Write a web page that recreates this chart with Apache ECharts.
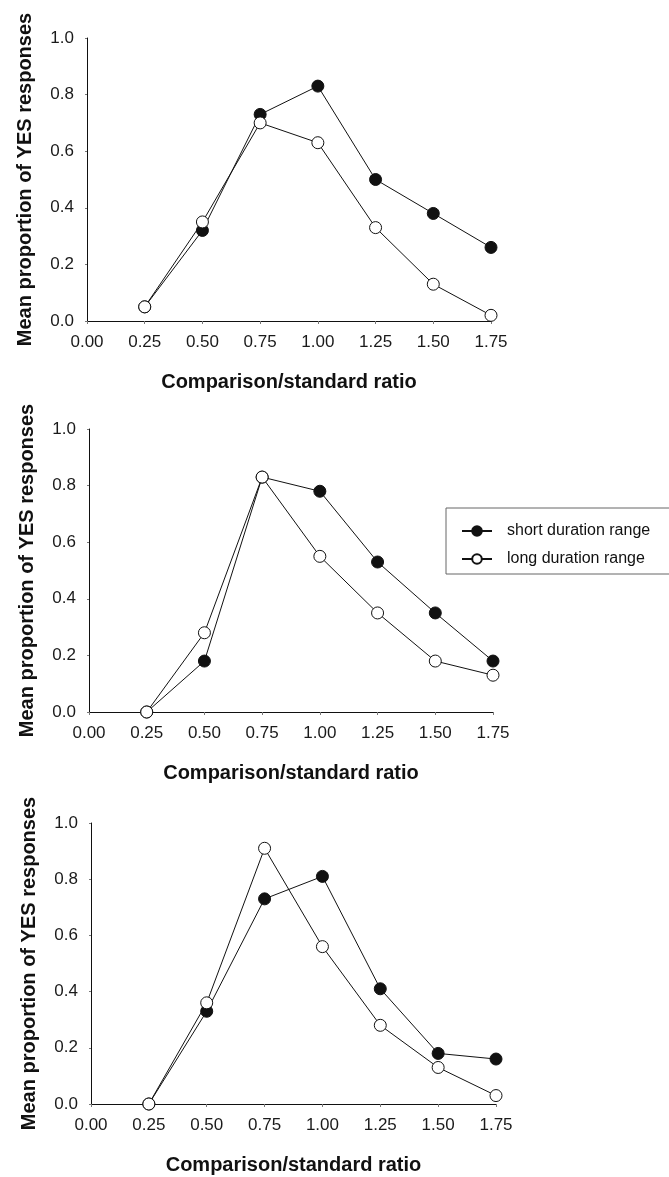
<!DOCTYPE html>
<html>
<head>
<meta charset="utf-8">
<script src="https://cdn.jsdelivr.net/npm/echarts@6/dist/echarts.min.js"></script>
<style>
html, body { margin: 0; padding: 0; background: #fff; }
#chart { width: 669px; height: 1177px; }
</style>
</head>
<body>
<div id="chart"></div>
<script>
// comparison/standard ratios (x positions of the points)
var ratios = [0.25, 0.50, 0.75, 1.00, 1.25, 1.50, 1.75];

// top panel
var topShort = [0.05, 0.32, 0.73, 0.83, 0.50, 0.38, 0.26];
var topLong  = [0.05, 0.35, 0.70, 0.63, 0.33, 0.13, 0.02];
// middle panel
var midShort = [0.00, 0.18, 0.83, 0.78, 0.53, 0.35, 0.18];
var midLong  = [0.00, 0.28, 0.83, 0.55, 0.35, 0.18, 0.13];
// bottom panel
var botShort = [0.00, 0.33, 0.73, 0.81, 0.41, 0.18, 0.16];
var botLong  = [0.00, 0.36, 0.91, 0.56, 0.28, 0.13, 0.03];

var seriesNames = ['short duration range', 'long duration range'];
var xTitle = 'Comparison/standard ratio';
var yTitle = 'Mean proportion of YES responses';

var FONT = '"Liberation Sans", Arial, sans-serif';

function pairs(ys) {
  return ratios.map(function (x, i) { return [x, ys[i]]; });
}

var grids = [
  { left: 87, width: 404, top: 38, height: 283 },
  { left: 89, width: 404, top: 429, height: 283 },
  { left: 91, width: 405, top: 823, height: 281 }
];

var xAxes = grids.map(function (g, i) {
  return {
    gridIndex: i,
    type: 'value',
    min: 0, max: 1.75, interval: 0.25,
    name: xTitle,
    nameLocation: 'middle',
    nameGap: 51,
    nameTextStyle: { fontFamily: FONT, fontWeight: 'bold', fontSize: 20, color: '#111' },
    axisLine: { onZero: false, lineStyle: { color: '#111', width: 1 } },
    axisTick: { show: true, length: 3, lineStyle: { color: '#777' } },
    splitLine: { show: false },
    axisLabel: {
      margin: 13, fontFamily: FONT, fontSize: 17, color: '#1a1a1a',
      formatter: function (v) { return v.toFixed(2); }
    }
  };
});

var yAxes = grids.map(function (g, i) {
  return {
    gridIndex: i,
    type: 'value',
    min: 0, max: 1, interval: 0.2,
    name: yTitle,
    nameLocation: 'middle',
    nameGap: 52,
    nameTextStyle: { fontFamily: FONT, fontWeight: 'bold', fontSize: 20, color: '#111' },
    axisLine: { show: true, lineStyle: { color: '#111', width: 1 } },
    axisTick: { show: true, length: 2, lineStyle: { color: '#777' } },
    splitLine: { show: false },
    axisLabel: {
      margin: 13, fontFamily: FONT, fontSize: 17, color: '#1a1a1a',
      formatter: function (v) { return v.toFixed(1); }
    }
  };
});

function shortSeries(data, i) {
  return {
    name: seriesNames[0], type: 'line', xAxisIndex: i, yAxisIndex: i,
    data: pairs(data), symbol: 'circle', symbolSize: 12,
    lineStyle: { color: '#111', width: 1 },
    itemStyle: { color: '#111', borderColor: '#111', borderWidth: 1 },
    z: 2
  };
}
function longSeries(data, i) {
  return {
    name: seriesNames[1], type: 'line', xAxisIndex: i, yAxisIndex: i,
    data: pairs(data), symbol: 'circle', symbolSize: 12,
    lineStyle: { color: '#111', width: 1 },
    itemStyle: { color: '#fff', borderColor: '#111', borderWidth: 1 },
    z: 3
  };
}

var chart = echarts.init(document.getElementById('chart'), null, { renderer: 'canvas' });

var option = {
  backgroundColor: '#fff',
  animation: false,
  grid: grids,
  xAxis: xAxes,
  yAxis: yAxes,
  legend: {
    orient: 'vertical',
    left: 456, top: 518,
    itemWidth: 30, itemHeight: 12, itemGap: 12,
    data: seriesNames,
    textStyle: { fontFamily: FONT, fontSize: 16, color: '#111', padding: [0, 0, 0, 10] }
  },
  graphic: [
    {
      type: 'rect',
      shape: { x: 446, y: 508, width: 260, height: 66 },
      style: { fill: null, stroke: '#666', lineWidth: 1 },
      silent: true
    }
  ],
  series: [
    shortSeries(topShort, 0), longSeries(topLong, 0),
    shortSeries(midShort, 1), longSeries(midLong, 1),
    shortSeries(botShort, 2), longSeries(botLong, 2)
  ]
};

chart.setOption(option);
</script>
</body>
</html>
